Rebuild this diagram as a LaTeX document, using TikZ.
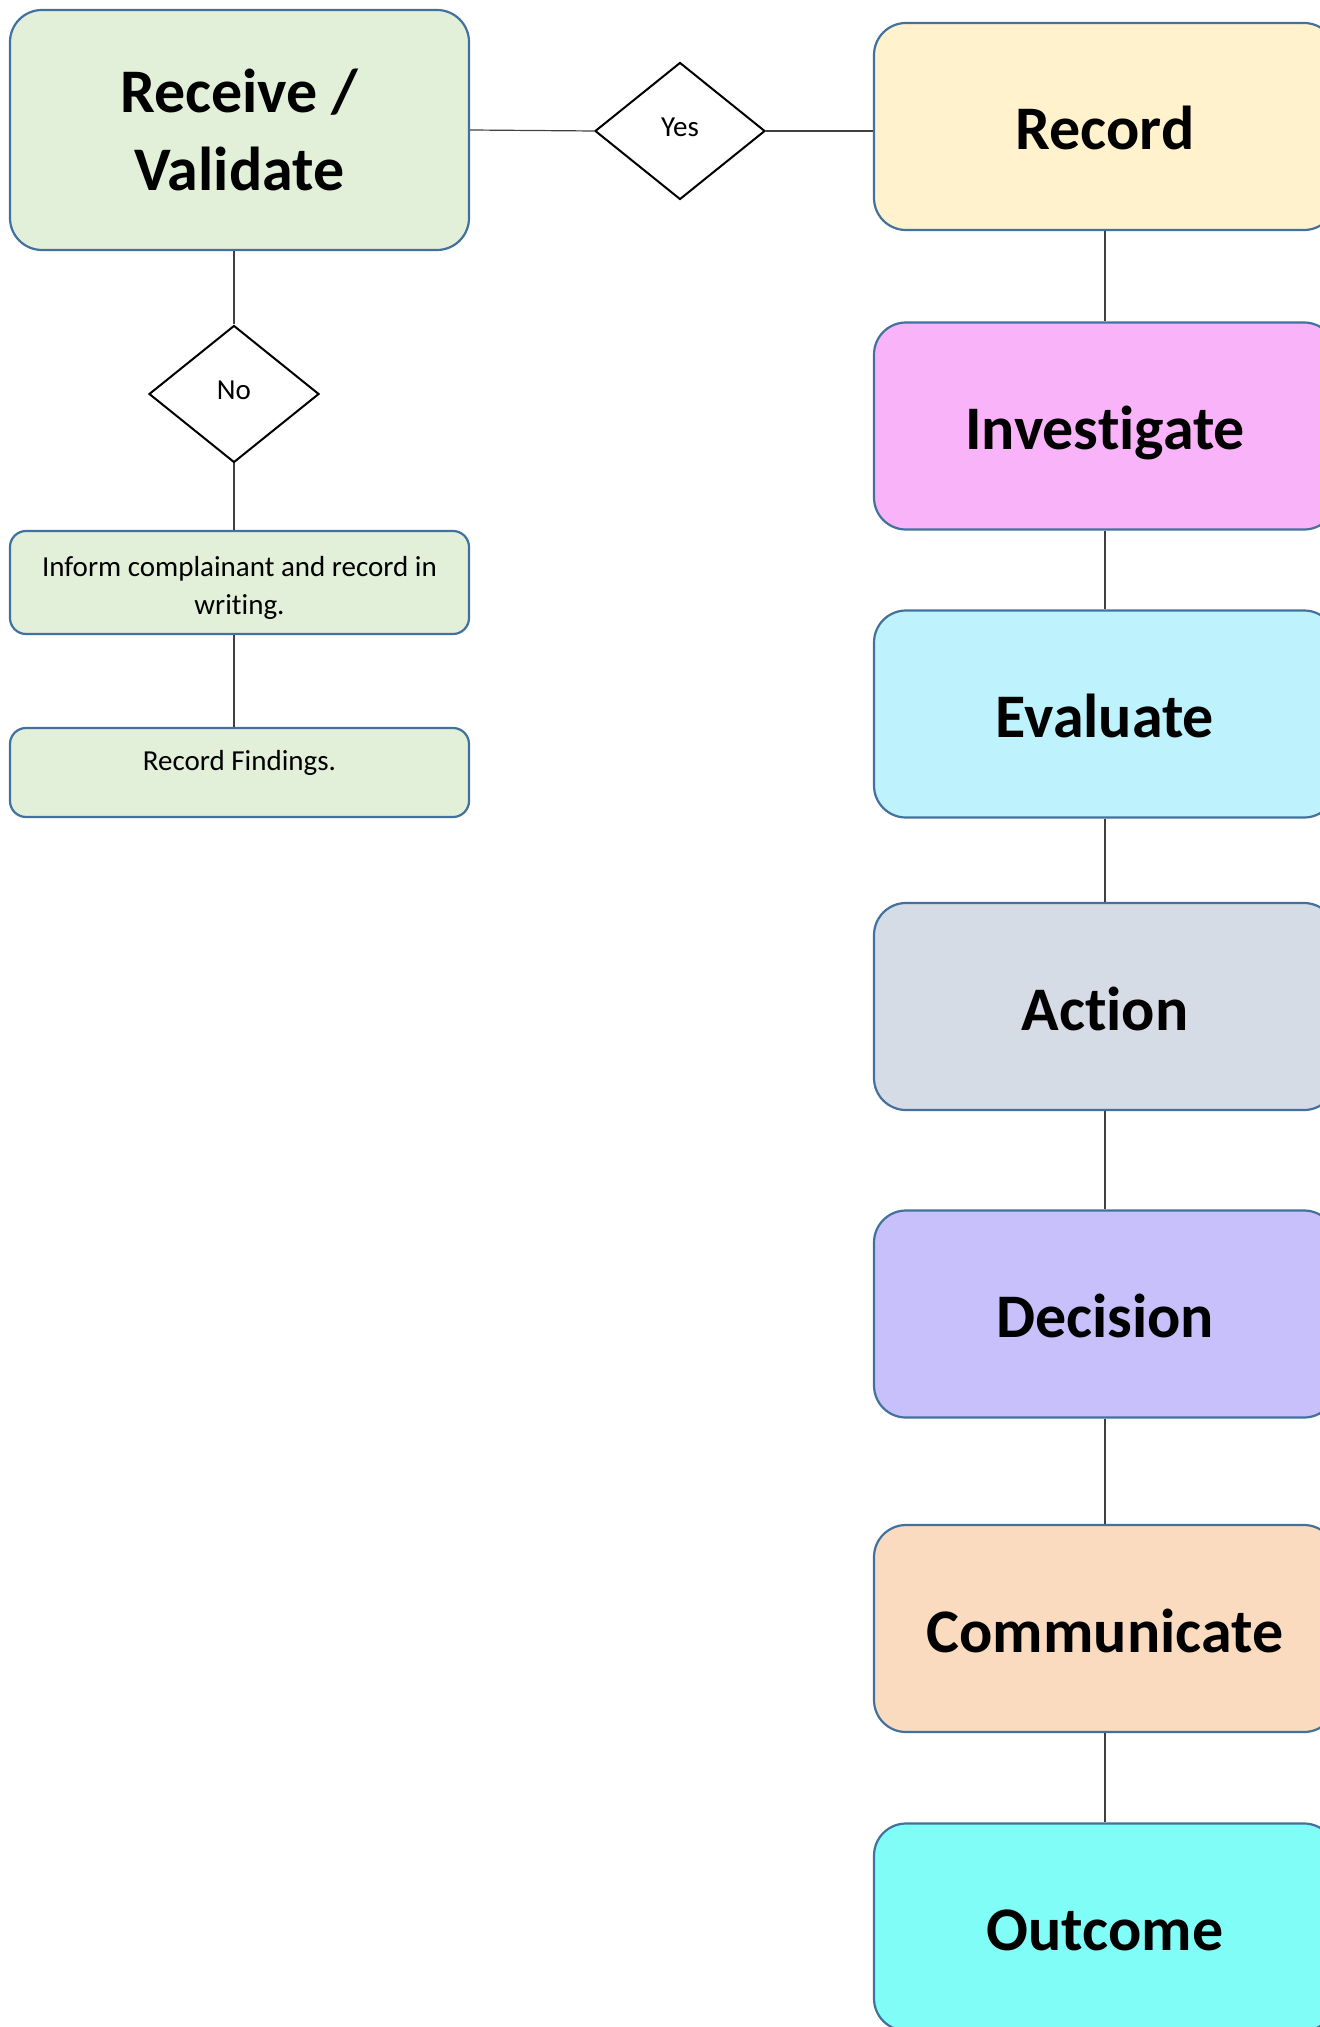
\documentclass[tikz,border=0pt]{standalone}
\usepackage{fontspec}
\setmainfont{Carlito}[Ligatures={NoCommon,NoContextual,NoRequired}]
\usetikzlibrary{shapes.geometric}
\definecolor{bordc}{HTML}{41719C}
\definecolor{greenf}{HTML}{E2EFD9}
\definecolor{recf}{HTML}{FFF2CC}
\definecolor{invf}{HTML}{F9B4F9}
\definecolor{evaf}{HTML}{BEF2FC}
\definecolor{actf}{HTML}{D6DCE5}
\definecolor{decf}{HTML}{C7C0FA}
\definecolor{comf}{HTML}{FADBC0}
\definecolor{outf}{HTML}{80FDF6}
\definecolor{linec}{HTML}{404040}
\newcommand{\nolig}{\kern0pt }
\tikzset{
  bigbox/.style={draw=bordc, line width=1.1pt, rounded corners=16pt,
    minimum width=231pt, minimum height=103.5pt, inner sep=0pt,
    font=\fontsize{31}{39}\selectfont\bfseries, align=center,
    text height=23.5pt, text depth=0pt},
  smallbox/.style={draw=bordc, line width=1.1pt, rounded corners=8pt,
    minimum width=229.5pt, inner sep=0pt},
  smalltext/.style={font=\fontsize{14.5}{19}\selectfont, align=center},
  decide/.style={diamond, draw=black, line width=1pt, fill=white, inner sep=0pt,
    minimum width=85pt, minimum height=68.5pt,
    font=\fontsize{14.5}{19}\selectfont, text depth=4pt},
  conn/.style={draw=linec, line width=0.6pt}
}
\begin{document}
\begin{tikzpicture}[x=0.5pt,y=-0.5pt]
\useasboundingbox (0,0) rectangle (1320,2027);
% left column
\node[bigbox, fill=greenf, minimum width=229.5pt, minimum height=120pt, text height=60.6pt] (recv) at (239.5,130) {Receive /\\Validate};
\node[decide] (yes) at (680,131) {Yes};
\node[decide] (no) at (234,394) {No};
\node[smallbox, fill=greenf, minimum height=51.5pt,
  label={[smalltext, yshift=-2.5pt]center:Inform complainant and record in\\writ\nolig ing.}] (inform) at (239.5,582.5) {};
\node[smallbox, fill=greenf, minimum height=44.5pt,
  label={[smalltext, yshift=5pt]center:Record Findings.}] (find) at (239.5,772.5) {};
% right column
\node[bigbox, fill=recf] (record) at (1105,126.5) {Record};
\node[bigbox, fill=invf] (invest) at (1105,426) {Invest\nolig igate};
\node[bigbox, fill=evaf] (eval) at (1105,714) {Evaluate};
\node[bigbox, fill=actf] (action) at (1105,1006.5) {Act\nolig ion};
\node[bigbox, fill=decf] (decis) at (1105,1314) {Decision};
\node[bigbox, fill=comf] (comm) at (1105,1628.5) {Communicate};
\node[bigbox, fill=outf] (outc) at (1105,1927) {Outcome};
% connectors
\draw[conn] (recv.east) -- (yes.west);
\draw[conn] (yes.east) -- (yes.east -| record.west);
\draw[conn] (no.north) -- (no.north |- recv.south);
\draw[conn] (no.south) -- (no.south |- inform.north);
\draw[conn] (inform.south -| no.center) -- (find.north -| no.center);
\draw[conn] (record.south) -- (invest.north);
\draw[conn] (invest.south) -- (eval.north);
\draw[conn] (eval.south) -- (action.north);
\draw[conn] (action.south) -- (decis.north);
\draw[conn] (decis.south) -- (comm.north);
\draw[conn] (comm.south) -- (outc.north);
\end{tikzpicture}
\end{document}
